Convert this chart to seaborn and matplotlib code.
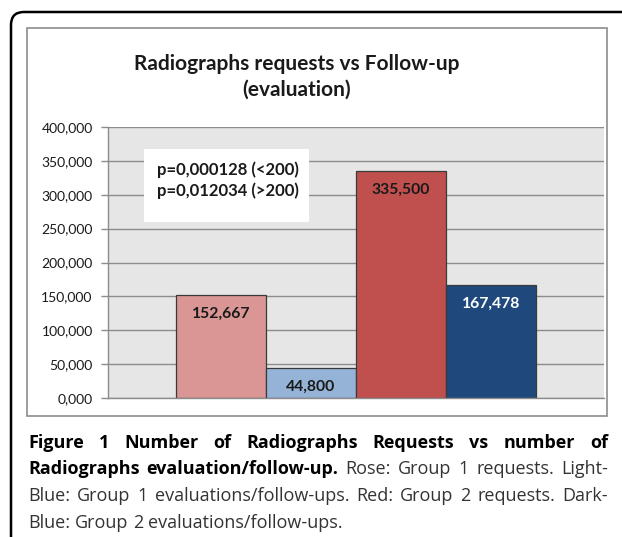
import matplotlib
matplotlib.use("Agg")
import matplotlib.pyplot as plt
import matplotlib.patches as mpatches
import seaborn as sns

# ---------------------------------------------------------------
# data
# ---------------------------------------------------------------
categories = ["Group 1 requests", "Group 1 evaluations/follow-ups",
              "Group 2 requests", "Group 2 evaluations/follow-ups"]
values = [152667, 44800, 335500, 167478]
bar_colors = ["#D99694", "#95B3D7", "#C0504D", "#1F497D"]
label_colors = ["#1a1a1a", "#1a1a1a", "#1a1a1a", "#ffffff"]
yticks = [0, 50000, 100000, 150000, 200000, 250000, 300000, 350000, 400000]
ytick_labels = ["0,000", "50,000", "100,000", "150,000", "200,000",
                "250,000", "300,000", "350,000", "400,000"]
title = "Radiographs requests vs Follow-up\n(evaluation)"
pvalue_text = "p=0,000128 (<200)\np=0,012034 (>200)"

# caption lines: (text, bold)
caption_lines = [
    [("Figure 1 Number of Radiographs Requests vs number of", True)],
    [("Radiographs evaluation/follow-up.", True),
     ("Rose: Group 1 requests. Light-", False)],
    [("Blue: Group 1 evaluations/follow-ups. Red: Group 2 requests. Dark-", False)],
    [("Blue: Group 2 evaluations/follow-ups.", False)],
]

W, H = 622, 537
chart_font = "Lato"
caption_font = "Open Sans"

sns.set_theme(style="white")
plt.rcParams["font.family"] = [chart_font, "DejaVu Sans"]

fig = plt.figure(figsize=(W / 100, H / 100), dpi=100)
fig.patch.set_facecolor("white")


def fx(px):
    return px / W


def fy(py):
    return 1 - py / H


# outer rounded frame (goes past right/bottom edge)
frame = mpatches.FancyBboxPatch((0.11, -0.6), 7.0, 5.85,
                                boxstyle="round,pad=0,rounding_size=0.13",
                                transform=fig.dpi_scale_trans,
                                facecolor="white", edgecolor="black",
                                linewidth=1.8, zorder=0)
fig.patches.append(frame)

# chart box
box = mpatches.Rectangle((fx(27), fy(416)), fx(607) - fx(27), fy(28) - fy(416),
                         transform=fig.transFigure, facecolor="white",
                         edgecolor="#8c8c8c", linewidth=1.2, zorder=1)
fig.patches.append(box)

ax = fig.add_axes([fx(108), fy(398), fx(604) - fx(108), fy(127) - fy(398)])
ax.set_zorder(2)
ax.set_facecolor("#E6E6E6")

sns.barplot(x=categories, y=values, hue=categories, palette=bar_colors,
            width=1.0, edgecolor="#3a3a3a", linewidth=0.9, legend=False,
            saturation=1, ax=ax)

ax.set_xlim(-1.25, 4.25)
ax.set_ylim(0, 400000)
ax.set_yticks(yticks)
ax.set_yticklabels(ytick_labels, fontsize=10, color="#1a1a1a")
ax.set_xticks([])
ax.set_xlabel("")
ax.set_ylabel("")
ax.grid(axis="y", color="#8c8c8c", linewidth=1.0)
ax.set_axisbelow(True)
ax.tick_params(axis="y", length=5, color="#8c8c8c", width=1.0, pad=6, left=True)
for s in ["top", "right"]:
    ax.spines[s].set_visible(False)
for s in ["left", "bottom"]:
    ax.spines[s].set_color("#8c8c8c")
    ax.spines[s].set_linewidth(1.0)

# value labels inside bars
for i, v in enumerate(values):
    ax.annotate(f"{v:,}", (i, v), xytext=(0, -14), textcoords="offset points",
                ha="center", va="center", fontsize=11.3, fontweight="bold",
                color=label_colors[i])

# p-value box
fig.patches.append(mpatches.Rectangle((fx(144), fy(222)), fx(309) - fx(144),
                                      fy(149) - fy(222), transform=fig.transFigure,
                                      facecolor="white", edgecolor="none", zorder=3))
fig.text(fx(157), fy(180), pvalue_text, ha="left", va="center", fontsize=12,
         fontweight="bold", color="#1a1a1a", linespacing=1.35, zorder=4)

# title
fig.text(fx(297), fy(77), title, ha="center", va="center", fontsize=15,
         fontweight="bold", color="#1a1a1a", linespacing=1.35)

# caption (justified like the journal layout)
cap_size = 13
cap_left, cap_right = 28, 608
baselines = [448, 474.5, 501, 528]
fig.canvas.draw()
renderer = fig.canvas.get_renderer()
space_w = None
for li, line in enumerate(caption_lines):
    words = []
    for txt, bold in line:
        for w in txt.split(" "):
            words.append((w, bold))
    texts = [fig.text(0, fy(baselines[li]), w, fontsize=cap_size,
                      fontweight="bold" if b else "normal", family=caption_font,
                      va="baseline", ha="left",
                      color="black" if b else "#333333")
             for w, b in words]
    widths = [t.get_window_extent(renderer).width for t in texts]
    if space_w is None:
        probe = fig.text(0, 0, "a a", fontsize=cap_size, family=caption_font)
        probe2 = fig.text(0, 0, "aa", fontsize=cap_size, family=caption_font)
        space_w = (probe.get_window_extent(renderer).width
                   - probe2.get_window_extent(renderer).width)
        probe.remove()
        probe2.remove()
    last = li == len(caption_lines) - 1
    gap = space_w if last else (cap_right - cap_left - sum(widths)) / (len(words) - 1)
    x = cap_left
    for t, w in zip(texts, widths):
        t.set_x(fx(x))
        x += w + gap

fig.savefig("out.png", dpi=100)
